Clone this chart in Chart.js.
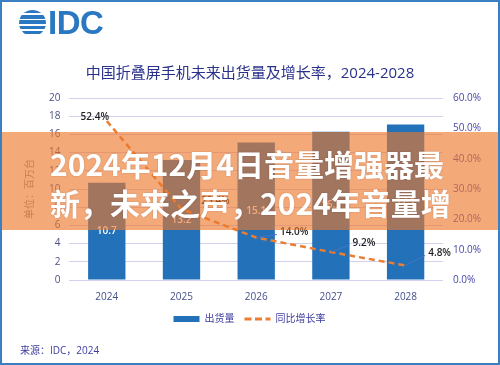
<!DOCTYPE html>
<html>
<head>
<meta charset="utf-8">
<script src="https://cdn.jsdelivr.net/npm/chart.js@4.4.1/dist/chart.umd.min.js"></script>
<style>
  html, body { margin: 0; padding: 0; background: #fff; }
  #wrap { position: relative; width: 500px; height: 365px; overflow: hidden; background: #fff; }
  #chart { position: absolute; left: 0; top: 0; }
  #frame { position: absolute; left: 0; top: 0; width: 500px; height: 365px; box-sizing: border-box; border: 2px solid #3a7fc1; pointer-events: none; }
  #logo-mark { position: absolute; left: 19px; top: 10px; width: 27px; height: 26px; border-radius: 50%;
    background: repeating-linear-gradient(to bottom, #2b78c2 0 3.4px, #fff 3.4px 5.2px); }
  #logo-text { position: absolute; left: 48px; top: 4px; font: bold 33px "Liberation Sans", Arial, sans-serif; line-height: 38px; color: #2b78c2; letter-spacing: -0.5px; }
  #title { position: absolute; left: 0; top: 62px; width: 500px; text-align: center; font: 15px "Open Sans", "Noto Sans CJK SC", sans-serif; line-height: 20px; color: #29318a; }
  #source { position: absolute; left: 20px; top: 342px; font: 10px "Open Sans", "Noto Sans CJK SC", sans-serif; line-height: 16px; color: #3c3ca0; }
  #banner { position: absolute; left: 0; top: 132px; width: 500px; height: 98px; background: rgba(238, 118, 43, 0.63); }
  .bline { position: absolute; left: 50px; white-space: nowrap; font: 700 30px "Noto Sans CJK SC", sans-serif; line-height: 40px; color: #fff; text-shadow: 0 0 2px rgba(0,0,0,0.2); }
</style>
</head>
<body>
<div id="wrap">
  <canvas id="chart" width="500" height="365"></canvas>
  <div id="logo-mark"></div>
  <div id="logo-text">IDC</div>
  <div id="title">中国折叠屏手机未来出货量及增长率，2024-2028</div>
  <div id="source">来源：IDC，2024</div>
  <div id="banner">
    <div class="bline" style="top:11px">2024年12月4日音量增强器最</div>
    <div class="bline" style="top:50px">新，未来之声，2024年音量增</div>
  </div>
  <div id="frame"></div>
</div>
<script>
const years = ['2024', '2025', '2026', '2027', '2028'];
const shipments = [10.7, 13.2, 15.1, 16.3, 17.1];
const growthRates = [52.4, 23.4, 14.0, 9.2, 4.8];

const fontFamily = '"Open Sans", "Noto Sans CJK SC", sans-serif';
const barColor = '#2372b9';
const lineColor = '#ed7d31';

// label offsets for the growth labels (pixels from point)
const rateLabelOffset = [[-12, -4], [34, -8], [38, -5], [33, -9], [34, -12]];

const valueLabels = {
  id: 'valueLabels',
  afterLayout(chart) {
    // legend sits a little left of the plot centre in the original
    chart.legend.left -= 8;
    chart.legend.right -= 8;
  },
  afterDatasetsDraw(chart) {
    const ctx = chart.ctx;
    ctx.save();
    ctx.font = '600 10px ' + fontFamily;
    ctx.textAlign = 'center';
    ctx.textBaseline = 'middle';

    // bar values, centred in the bar
    ctx.fillStyle = '#fff';
    chart.getDatasetMeta(0).data.forEach((bar, i) => {
      ctx.fillText(shipments[i].toFixed(1), bar.x, (bar.y + bar.base) / 2);
    });

    // growth rate labels with leader lines
    chart.getDatasetMeta(1).data.forEach((pt, i) => {
      const txt = growthRates[i].toFixed(1) + '%';
      const lx = pt.x + rateLabelOffset[i][0];
      const ly = pt.y + rateLabelOffset[i][1];
      if (i > 0) {
        const w = ctx.measureText(txt).width;
        ctx.strokeStyle = '#4472c4';
        ctx.lineWidth = 1;
        ctx.beginPath();
        ctx.moveTo(pt.x, pt.y);
        ctx.lineTo(lx - w / 2 - 3, ly + 2);
        ctx.stroke();
      }
      ctx.fillStyle = '#1e1e1e';
      ctx.fillText(txt, lx, ly);
    });
    ctx.restore();
  }
};

new Chart(document.getElementById('chart'), {
  data: {
    labels: years,
    datasets: [
      {
        type: 'bar',
        label: '出货量',
        data: shipments,
        backgroundColor: barColor,
        yAxisID: 'y',
        order: 1,
        categoryPercentage: 1,
        barPercentage: 0.5
      },
      {
        type: 'line',
        label: '同比增长率',
        data: growthRates,
        borderColor: lineColor,
        backgroundColor: lineColor,
        borderWidth: 2.5,
        borderDash: [6, 4],
        pointRadius: 0,
        tension: 0,
        yAxisID: 'y1',
        order: 0
      }
    ]
  },
  options: {
    responsive: false,
    animation: false,
    devicePixelRatio: 1,
    layout: { padding: { top: 98, left: 24, right: 9, bottom: 31 } },
    plugins: {
      tooltip: { enabled: false },
      legend: {
        position: 'bottom',
        labels: {
          usePointStyle: true,
          pointStyleWidth: 26,
          boxHeight: 6,
          padding: 10,
          color: '#3c3ca0',
          font: { family: fontFamily, size: 10 },
          generateLabels(chart) {
            const items = Chart.defaults.plugins.legend.labels.generateLabels(chart);
            items.sort((a, b) => a.datasetIndex - b.datasetIndex);
            items[0].pointStyle = 'rect';
            items[0].lineWidth = 0;
            items[1].pointStyle = 'line';
            items[1].lineWidth = 3;
            items[1].lineDash = [7, 3.5];
            items[1].strokeStyle = lineColor;
            return items;
          }
        }
      }
    },
    scales: {
      x: {
        grid: { display: false, drawTicks: false },
        border: { display: false },
        ticks: { color: '#44508a', padding: 11, font: { family: fontFamily, size: 10 } },
        afterFit: s => { s.height = 24; }
      },
      y: {
        position: 'left',
        min: 0,
        max: 20,
        ticks: { stepSize: 2, color: '#4a5080', padding: 9, font: { family: fontFamily, size: 10 } },
        grid: { color: '#d2d2ee', drawTicks: false },
        border: { display: false },
        title: {
          display: true,
          text: '单位：百万台',
          color: '#8a8a8a',
          font: { family: fontFamily, size: 10 },
          padding: { top: 0, bottom: 4 }
        }
      },
      y1: {
        position: 'right',
        min: 0,
        max: 60,
        ticks: {
          stepSize: 10,
          color: '#4848a8',
          padding: 10,
          font: { family: fontFamily, size: 10 },
          callback: v => v.toFixed(1) + '%'
        },
        grid: { display: false, drawTicks: false },
        border: { display: false }
      }
    }
  },
  plugins: [valueLabels]
});
</script>
</body>
</html>
